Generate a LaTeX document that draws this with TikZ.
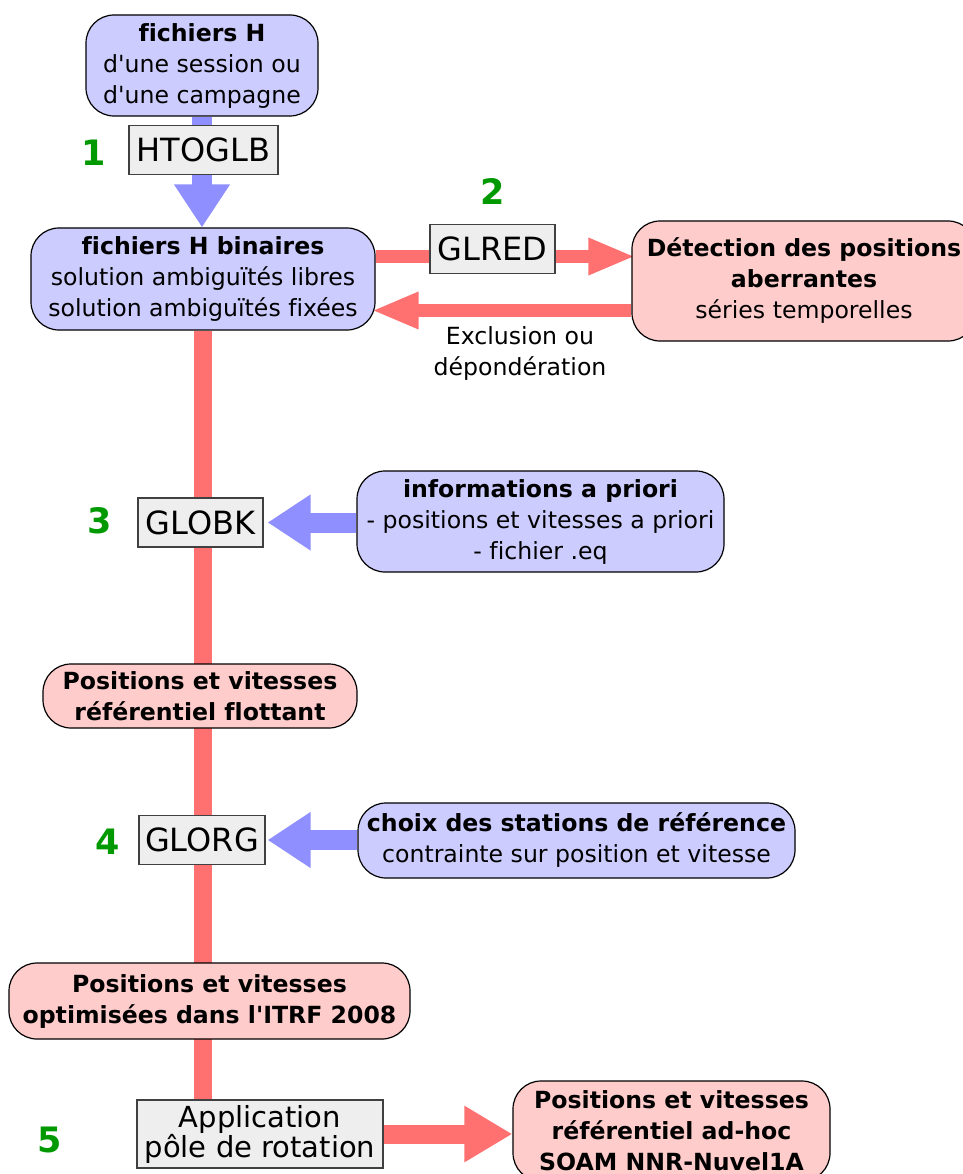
\documentclass[tikz,border=0pt]{standalone}
\usepackage{fontspec}
\setmainfont{DejaVu Sans}[Ligatures={TeXOff,NoCommon}]
\usetikzlibrary{arrows.meta,backgrounds}
\definecolor{nodeblue}{HTML}{CCCCFF}
\definecolor{nodepink}{HTML}{FFCCCC}
\definecolor{boxgray}{HTML}{EEEEEE}
\definecolor{arrblue}{HTML}{8F8FFF}
\definecolor{arrred}{HTML}{FF7070}
\definecolor{stepgreen}{HTML}{009900}

\begin{document}
\begin{tikzpicture}[x=1pt,y=-1pt,
  rbox/.style={rectangle,draw,line width=1.2pt,rounded corners=28pt,
    align=center,inner sep=2pt,font=\fontsize{23.6}{31}\selectfont},
  bluebox/.style={rbox,fill=nodeblue},
  pinkbox/.style={rbox,fill=nodepink},
  prog/.style={rectangle,draw=black!75,line width=1.2pt,fill=boxgray,
    minimum height=49pt,inner sep=2pt,align=center,
    font=\fontsize{32}{33}\selectfont},
  num/.style={text=stepgreen,inner sep=0pt,font=\fontsize{35}{35}\selectfont\bfseries},
  bluearr/.style={-{Triangle[length=43pt,width=53pt]},line width=20pt,draw=arrblue},
  redarr/.style={-{Triangle[length=48pt,width=53pt]},line width=19pt,draw=arrred},
  thinarr/.style={-{Triangle[length=47pt,width=34pt]},line width=13pt,draw=arrred,
    shorten >=-4pt}]

  \useasboundingbox (0,0) rectangle (962,1174);

  \node[bluebox,minimum width=232pt,minimum height=101pt] (fhsess) at (202,65.5)
    {\textbf{fichiers H}\\d'une session ou\\d'une campagne};
  \node[prog,minimum width=149pt] (htoglb) at (203.5,150) {HTOGLB};
  \node[bluebox,minimum width=344pt,minimum height=102pt] (fhbin) at (203,279)
    {\textbf{fichiers H binaires}\\solution ambiguïtés libres\\solution ambiguïtés fixées};
  \node[prog,minimum width=125pt] (glred) at (492.5,249) {GLRED};
  \node[pinkbox,minimum width=344pt,minimum height=120pt] (detect) at (804,281)
    {\textbf{Détection des positions}\\\textbf{aberrantes}\\séries temporelles};
  \node[align=center,font=\fontsize{23.6}{31}\selectfont] (excl) at (520,353)
    {Exclusion ou\\dépondération};

  \node[prog,minimum width=125pt] (globk) at (200.5,522.5) {GLOBK};
  \node[bluebox,minimum width=367pt,minimum height=101pt] (apriori) at (540.5,521.5)
    {\textbf{informations a priori}\\- positions et vitesses a priori\\- fichier .eq};
  \node[pinkbox,minimum width=314pt,minimum height=64pt] (flott) at (200,696)
    {\textbf{Positions et vitesses}\\\textbf{référentiel flottant}};

  \node[prog,minimum width=126pt] (glorg) at (202,840) {GLORG};
  \node[bluebox,minimum width=437pt,minimum height=75pt] (choix) at (576.5,840.5)
    {\textbf{choix des stations de référence}\\contrainte sur position et vitesse};
  \node[pinkbox,minimum width=401pt,minimum height=76pt] (itrf) at (209.5,1001)
    {\textbf{Positions et vitesses}\\\textbf{optimisées dans l'ITRF 2008}};

  \node[prog,minimum width=246pt,minimum height=68pt,inner sep=0pt,
    font=\fontsize{29}{30}\selectfont] (appli) at (260,1134)
    {Application\\pôle de rotation};
  \node[pinkbox,minimum width=317pt,minimum height=100pt] (adhoc) at (671.5,1131)
    {\textbf{Positions et vitesses}\\\textbf{référentiel ad-hoc}\\\textbf{SOAM NNR-Nuvel1A}};

  \node[num] (num1) at (94,153) {1};
  \node[num] (num2) at (493,192) {2};
  \node[num] (num3) at (100,521) {3};
  \node[num] (num4) at (108,842) {4};
  \node[num] (num5) at (50,1140) {5};

  \begin{pgfonlayer}{background}
    \draw[bluearr] (fhsess.south) -- (fhsess.south |- fhbin.north);
    \draw[line width=18pt,draw=arrred] (fhbin.south) -- (fhbin.south |- appli.north);
    \draw[thinarr] ([yshift=22.5pt]fhbin.east) -- ([yshift=22.5pt]fhbin.east -| detect.west);
    \draw[thinarr] ([yshift=-29.5pt]detect.west) -- ([yshift=-29.5pt]detect.west -| fhbin.east);
    \draw[bluearr,shorten >=4pt] (apriori.west |- globk) -- (globk.east);
    \draw[bluearr,shorten >=2pt] (choix.west |- glorg) -- (glorg.east);
    \draw[redarr] (appli.east) -- (appli.east -| adhoc.west);
  \end{pgfonlayer}
\end{tikzpicture}
\end{document}
